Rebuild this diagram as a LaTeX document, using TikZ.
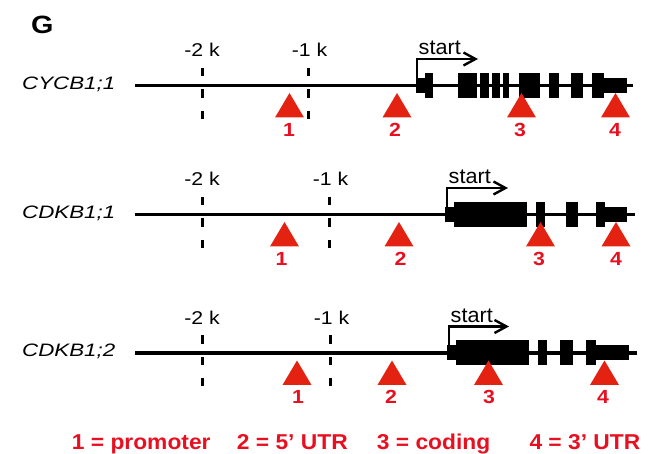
\documentclass[tikz,border=0pt]{standalone}
\usepackage{fontspec}
\setmainfont{Liberation Sans}
\newfontfamily\fpanel{Liberation Sans}[FakeStretch=1.15]
\newfontfamily\fgene{Liberation Sans}[FakeStretch=1.24]
\newfontfamily\fkb{Liberation Sans}[FakeStretch=1.15]
\newfontfamily\fstart{Liberation Sans}[FakeStretch=1.03]
\newfontfamily\fnum{Liberation Sans}[FakeStretch=1.12]
\newfontfamily\fleg{Liberation Sans}[FakeStretch=1.06]
\usetikzlibrary{arrows.meta}
\definecolor{sitered}{RGB}{228,34,18}
\definecolor{labred}{RGB}{232,16,32}

% one gene row: line, exons, TSS arrow, scale ticks, target sites
% #1 row id, #2 line y, #3 gene name, #4 line end, #5 -1k tick x,
% #6 TSS x, #7 arrow tip x, #8 exon list, #9 site list
\newcommand\generow[9]{%
  \node[genelab] (gene#1) at (22,#2+4) {#3};
  \coordinate (ls#1) at (135,#2);
  \coordinate (le#1) at (#4,#2);
  \draw[dna] (ls#1) -- (le#1);
  \foreach \xa/\xb/\h in {#8} {
    \fill[exon] (\xa,#2-\h) rectangle (\xb,#2+\h);
  }
  \coordinate (tss#1) at (#6,#2-7.5);
  \coordinate (tip#1) at (#7,#2-26.5);
  \draw[tssarrow] (tss#1) |- (tip#1);
  \node[startlab] (start#1) at (#6+1.5,#2-30.5) {start};
  \coordinate (ta#1) at (202,#2-17.5);
  \coordinate (tb#1) at (202,#2+33.5);
  \coordinate (tc#1) at (#5,#2-17.5);
  \coordinate (td#1) at (#5,#2+33.5);
  \draw[tick] (ta#1) -- (tb#1);
  \draw[tick] (tc#1) -- (td#1);
  \node[kblab] (kb2#1) at (202,#2-28.5) {-2 k};
  \node[kblab] (kb1#1) at (#5+1.5,#2-28.5) {-1 k};
  \foreach \sx/\lx/\n in {#9} {
    \fill[site] (\sx-14.5,#2+32) -- (\sx,#2+7.5) -- (\sx+14.5,#2+32) -- cycle;
    \node[numlab] (site#1\n) at (\lx,#2+51) {\n};
  }
}

\begin{document}
\begin{tikzpicture}[x=1pt,y=-1pt,
  dna/.style={line width=3.4pt},
  exon/.style={fill=black},
  tick/.style={line width=3pt, dash pattern=on 8.5pt off 13pt},
  tssarrow/.style={line width=2.4pt,
    -{Straight Barb[length=12pt,width=13pt,line width=2.4pt]}},
  site/.style={fill=sitered},
  genelab/.style={inner sep=0pt, anchor=base west,
    font=\fgene\itshape\fontsize{18}{21}\selectfont},
  kblab/.style={inner sep=0pt, anchor=base,
    font=\fkb\fontsize{18.5}{22}\selectfont},
  startlab/.style={inner sep=0pt, anchor=base west,
    font=\fstart\fontsize{21}{25}\selectfont},
  numlab/.style={inner sep=0pt, anchor=base, text=labred,
    font=\fnum\bfseries\fontsize{19}{23}\selectfont},
  leglab/.style={inner sep=0pt, anchor=base west, text=labred,
    font=\fleg\bfseries\fontsize{21.5}{25}\selectfont},
  panel/.style={inner sep=0pt, anchor=base west,
    font=\fpanel\bfseries\fontsize{25}{30}\selectfont}]
\useasboundingbox (0,0) rectangle (654,454);

\node[panel] (G) at (31,33.3) {G};

\generow{1}{85.5}{CYCB1;1}{633}{308}{417}{478}%
  {415.7/425/7.5, 425/432.7/12.5, 458.3/477.3/12.5, 480/489.3/12.5,
   491.7/500/12.5, 502.7/509.3/12.5, 519/540/12.5, 549/559.3/12.5,
   571/582.7/12.5, 592.3/604/12.5, 604/626.7/7.5}%
  {289.5/289/1, 397/395/2, 521.5/520/3, 615.5/615/4}

\generow{2}{214.5}{CDKB1;1}{635}{329}{447}{508}%
  {445/454/7.5, 454/527/12.5, 536/545/12.5, 566/578/12.5,
   596/605/12.5, 605/627/7.5}%
  {284.5/281.5/1, 399/400.5/2, 540.5/539/3, 616/616/4}

\generow{3}{353}{CDKB1;2}{637}{330}{449}{509}%
  {447/456/7.5, 456/529/12.5, 538/547/12.5, 560/573/12.5,
   586/596/12.5, 596/629/7.5}%
  {297/298/1, 392/391/2, 488.5/489/3, 604.5/603/4}

\node[leglab] (leg1) at (71.7,450) {1 = promoter};
\node[leglab] (leg2) at (236.7,450) {2 = 5’ UTR};
\node[leglab] (leg3) at (376.7,450) {3 = coding};
\node[leglab] (leg4) at (529.3,450) {4 = 3’ UTR};
\end{tikzpicture}
\end{document}
